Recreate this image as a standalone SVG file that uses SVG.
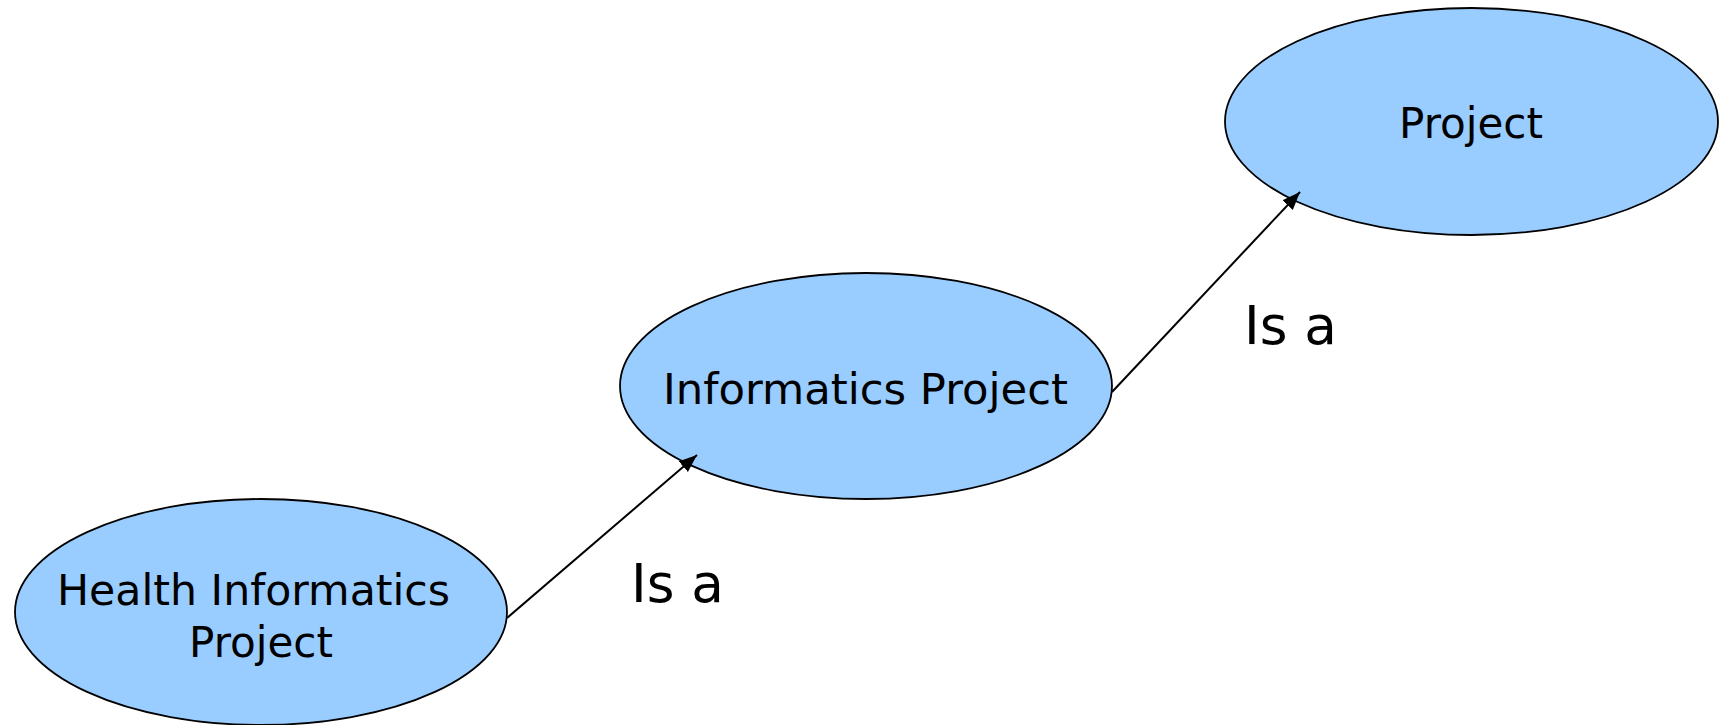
<svg xmlns="http://www.w3.org/2000/svg" width="1721" height="725" viewBox="0 0 1721 725">
  <style>
    .node { fill: #99CCFF; stroke: #000000; stroke-width: 1.8; }
    .label { font-family: "DejaVu Sans", Verdana, sans-serif; font-size: 42px; fill: #000000; }
    .rel { font-family: "DejaVu Sans", Verdana, sans-serif; font-size: 53px; fill: #000000; }
    .edge { stroke: #000000; stroke-width: 2; fill: none; marker-end: url(#arrow); }
  </style>
  <defs>
    <marker id="arrow" markerUnits="userSpaceOnUse" markerWidth="20" markerHeight="16" refX="18" refY="7" orient="auto">
      <path d="M0,0 L18,7 L0,14 Z" fill="#000000"/>
    </marker>
  </defs>

  <g id="node-health-informatics-project">
    <ellipse class="node" cx="261" cy="612" rx="246" ry="113"/>
    <text class="label" x="57" y="605" textLength="393" lengthAdjust="spacingAndGlyphs">Health Informatics</text>
    <text class="label" x="189" y="657" textLength="144" lengthAdjust="spacingAndGlyphs">Project</text>
  </g>

  <g id="node-informatics-project">
    <ellipse class="node" cx="866" cy="386" rx="246" ry="113"/>
    <text class="label" x="663" y="404" textLength="405" lengthAdjust="spacingAndGlyphs">Informatics Project</text>
  </g>

  <g id="node-project">
    <ellipse class="node" cx="1471.5" cy="121.5" rx="246.5" ry="113.5"/>
    <text class="label" x="1399" y="138" textLength="144" lengthAdjust="spacingAndGlyphs">Project</text>
  </g>

  <!-- connectors, drawn last so the arrowheads sit on top of the ellipses -->
  <g id="connectors">
    <line class="edge" x1="507" y1="618" x2="697" y2="455"/>
    <line class="edge" x1="1112" y1="392" x2="1300" y2="192"/>
    <text class="rel" x="631" y="602" textLength="93" lengthAdjust="spacingAndGlyphs">Is a</text>
    <text class="rel" x="1244" y="344" textLength="93" lengthAdjust="spacingAndGlyphs">Is a</text>
  </g>
</svg>
